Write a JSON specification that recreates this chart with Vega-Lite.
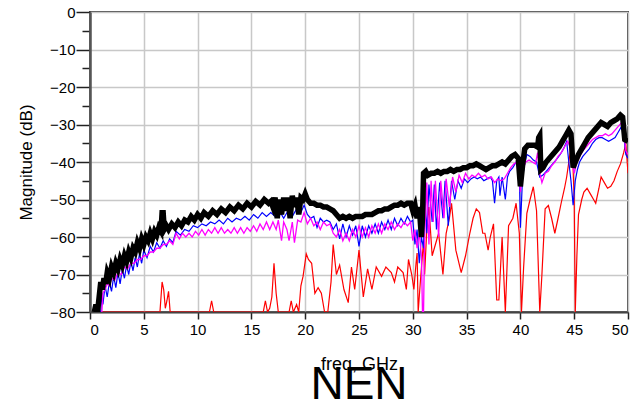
{
  "$schema": "https://vega.github.io/schema/vega-lite/v6.json",
  "width": 538,
  "height": 300,
  "autosize": {"type": "none"},
  "padding": {"left": 90, "top": 12, "right": 9, "bottom": 93},
  "background": "white",
  "config": {
    "view": {"stroke": "#444", "strokeWidth": 2},
    "font": "Liberation Sans"
  },
  "title": {"text": "NEN", "orient": "bottom", "fontSize": 46, "fontWeight": "normal", "font": "Liberation Sans", "color": "black", "offset": -10},
  "datasets": {
    "black": [
      {"f":0.4,"v":-80},{"f":0.55,"v":-78},{"f":0.7,"v":-80},{"f":0.85,"v":-76},{"f":1.0,"v":-72},{"f":1.15,"v":-74},{"f":1.3,"v":-71},{"f":1.45,"v":-72.5},{"f":1.6,"v":-69.5},{"f":1.8,"v":-71},{"f":2.0,"v":-68},{"f":2.2,"v":-69.5},{"f":2.4,"v":-67},{"f":2.6,"v":-68.5},{"f":2.8,"v":-66},{"f":3.0,"v":-67.5},{"f":3.2,"v":-65},{"f":3.4,"v":-66.5},{"f":3.6,"v":-64},{"f":3.8,"v":-65.5},{"f":4.0,"v":-63},{"f":4.2,"v":-64},{"f":4.4,"v":-61.5},{"f":4.6,"v":-63},{"f":4.8,"v":-60.5},{"f":5.0,"v":-62},{"f":5.2,"v":-60},{"f":5.4,"v":-61},{"f":5.6,"v":-59},{"f":5.8,"v":-60.5},{"f":6.0,"v":-58.5},{"f":6.2,"v":-59.5},{"f":6.4,"v":-57.5},{"f":6.6,"v":-58.5},{"f":6.7,"v":-53.5},{"f":6.8,"v":-53.5},{"f":6.9,"v":-58},{"f":7.1,"v":-57},{"f":7.3,"v":-58},{"f":7.6,"v":-56.5},{"f":7.9,"v":-57.5},{"f":8.2,"v":-56},{"f":8.5,"v":-57},{"f":8.8,"v":-55.5},{"f":9.1,"v":-56},{"f":9.4,"v":-54.5},{"f":9.7,"v":-55.5},{"f":10.0,"v":-54},{"f":10.3,"v":-55},{"f":10.6,"v":-53.5},{"f":11.0,"v":-54.5},{"f":11.4,"v":-53},{"f":11.8,"v":-54},{"f":12.2,"v":-52.5},{"f":12.6,"v":-53.5},{"f":13.0,"v":-52},{"f":13.4,"v":-53},{"f":13.8,"v":-51.5},{"f":14.2,"v":-52.5},{"f":14.6,"v":-51},{"f":15.0,"v":-52},{"f":15.4,"v":-50.5},{"f":15.8,"v":-51.5},{"f":16.2,"v":-50},{"f":16.6,"v":-51},{"f":16.8,"v":-50.5},{"f":17.0,"v":-52},{"f":17.2,"v":-49.5},{"f":17.4,"v":-55},{"f":17.6,"v":-50},{"f":17.8,"v":-54},{"f":18.0,"v":-49.5},{"f":18.2,"v":-53},{"f":18.4,"v":-49.5},{"f":18.6,"v":-55},{"f":18.8,"v":-49},{"f":19.0,"v":-52},{"f":19.2,"v":-49.5},{"f":19.4,"v":-54},{"f":19.6,"v":-49.5},{"f":19.8,"v":-50},{"f":20.0,"v":-48.5},{"f":20.2,"v":-50},{"f":20.5,"v":-51},{"f":20.8,"v":-51},{"f":21.1,"v":-51.5},{"f":21.4,"v":-51.5},{"f":21.7,"v":-52},{"f":22.0,"v":-52},{"f":22.3,"v":-52.5},{"f":22.6,"v":-53},{"f":22.9,"v":-54},{"f":23.2,"v":-55},{"f":23.5,"v":-54.5},{"f":23.8,"v":-55},{"f":24.1,"v":-54.5},{"f":24.4,"v":-55},{"f":24.7,"v":-54.5},{"f":25.0,"v":-54.5},{"f":25.3,"v":-54.5},{"f":25.6,"v":-54},{"f":25.9,"v":-54},{"f":26.2,"v":-54},{"f":26.5,"v":-53.5},{"f":26.8,"v":-53},{"f":27.1,"v":-53},{"f":27.4,"v":-52.5},{"f":27.7,"v":-52.5},{"f":28.0,"v":-52},{"f":28.3,"v":-51.5},{"f":28.6,"v":-51.5},{"f":28.9,"v":-51},{"f":29.2,"v":-51.5},{"f":29.5,"v":-51},{"f":29.8,"v":-51},{"f":30.0,"v":-53},{"f":30.2,"v":-51.5},{"f":30.4,"v":-55},{"f":30.6,"v":-52},{"f":30.8,"v":-60},{"f":30.9,"v":-55},{"f":31.0,"v":-43},{"f":31.2,"v":-42.5},{"f":31.4,"v":-43.5},{"f":31.7,"v":-43},{"f":32.0,"v":-43},{"f":32.3,"v":-42.5},{"f":32.6,"v":-43},{"f":32.9,"v":-42.5},{"f":33.2,"v":-42.5},{"f":33.5,"v":-42},{"f":33.8,"v":-42.5},{"f":34.1,"v":-42},{"f":34.4,"v":-42},{"f":34.7,"v":-41.5},{"f":35.0,"v":-41.5},{"f":35.3,"v":-41},{"f":35.6,"v":-41},{"f":35.9,"v":-40.5},{"f":36.2,"v":-41},{"f":36.5,"v":-41.5},{"f":36.8,"v":-42},{"f":37.1,"v":-41.5},{"f":37.4,"v":-41},{"f":37.7,"v":-41},{"f":38.0,"v":-40.5},{"f":38.3,"v":-40},{"f":38.6,"v":-40.5},{"f":38.9,"v":-39.5},{"f":39.2,"v":-38.5},{"f":39.5,"v":-38},{"f":39.8,"v":-39},{"f":40.0,"v":-46.5},{"f":40.2,"v":-41},{"f":40.4,"v":-36.5},{"f":40.7,"v":-35.5},{"f":41.0,"v":-35.5},{"f":41.3,"v":-35.5},{"f":41.6,"v":-36},{"f":41.7,"v":-33.5},{"f":41.8,"v":-33},{"f":41.9,"v":-42},{"f":42.1,"v":-41.5},{"f":42.4,"v":-40},{"f":42.7,"v":-39},{"f":43.0,"v":-38},{"f":43.3,"v":-37},{"f":43.6,"v":-36},{"f":43.9,"v":-34.5},{"f":44.2,"v":-33},{"f":44.5,"v":-31.5},{"f":44.7,"v":-32.5},{"f":44.9,"v":-41.5},{"f":45.1,"v":-40},{"f":45.4,"v":-38},{"f":45.7,"v":-36.5},{"f":46.0,"v":-35},{"f":46.3,"v":-33.5},{"f":46.6,"v":-32.5},{"f":46.9,"v":-31.5},{"f":47.2,"v":-30.5},{"f":47.5,"v":-29.5},{"f":47.8,"v":-30},{"f":48.1,"v":-30.5},{"f":48.4,"v":-29.5},{"f":48.7,"v":-29},{"f":49.0,"v":-28.5},{"f":49.3,"v":-27.5},{"f":49.5,"v":-28},{"f":49.7,"v":-34},{"f":50.0,"v":-34.5}
    ],
    "blue": [
      {"f":0.9,"v":-80},{"f":1.0,"v":-80},{"f":1.1,"v":-75},{"f":1.2,"v":-78},{"f":1.4,"v":-73},{"f":1.6,"v":-76},{"f":1.8,"v":-72},{"f":2.0,"v":-74.5},{"f":2.2,"v":-70.5},{"f":2.4,"v":-73.5},{"f":2.6,"v":-69.5},{"f":2.8,"v":-72.5},{"f":3.0,"v":-68.5},{"f":3.2,"v":-71},{"f":3.4,"v":-67.5},{"f":3.6,"v":-70},{"f":3.8,"v":-66.5},{"f":4.0,"v":-69},{"f":4.2,"v":-65.5},{"f":4.4,"v":-68},{"f":4.6,"v":-64.5},{"f":4.8,"v":-67},{"f":5.0,"v":-63.5},{"f":5.3,"v":-65.5},{"f":5.6,"v":-62.5},{"f":5.9,"v":-64},{"f":6.2,"v":-61.5},{"f":6.5,"v":-63},{"f":6.8,"v":-61},{"f":7.1,"v":-62.5},{"f":7.4,"v":-60.5},{"f":7.7,"v":-61.5},{"f":8.0,"v":-58.5},{"f":8.4,"v":-59.5},{"f":8.8,"v":-58},{"f":9.2,"v":-58.5},{"f":9.6,"v":-57},{"f":10.0,"v":-57.5},{"f":10.4,"v":-56.5},{"f":10.8,"v":-57},{"f":11.2,"v":-56},{"f":11.6,"v":-56.5},{"f":12.0,"v":-55.5},{"f":12.4,"v":-56.5},{"f":12.8,"v":-55},{"f":13.2,"v":-56},{"f":13.6,"v":-55},{"f":14.0,"v":-55.5},{"f":14.4,"v":-54.5},{"f":14.8,"v":-55.5},{"f":15.2,"v":-54},{"f":15.6,"v":-55},{"f":16.0,"v":-53.5},{"f":16.4,"v":-54.5},{"f":16.8,"v":-53.5},{"f":17.2,"v":-54.5},{"f":17.6,"v":-53},{"f":18.0,"v":-55},{"f":18.4,"v":-53},{"f":18.8,"v":-54.5},{"f":19.2,"v":-52.5},{"f":19.6,"v":-53.5},{"f":19.9,"v":-51.5},{"f":20.2,"v":-54},{"f":20.5,"v":-55},{"f":20.8,"v":-54.5},{"f":21.1,"v":-57.5},{"f":21.4,"v":-55},{"f":21.7,"v":-56},{"f":22.0,"v":-55.5},{"f":22.3,"v":-56},{"f":22.6,"v":-58},{"f":22.9,"v":-56.5},{"f":23.2,"v":-60.5},{"f":23.5,"v":-56.5},{"f":23.8,"v":-60},{"f":24.1,"v":-57},{"f":24.4,"v":-59.5},{"f":24.7,"v":-57},{"f":25.0,"v":-62.5},{"f":25.3,"v":-57},{"f":25.6,"v":-60},{"f":25.9,"v":-57},{"f":26.2,"v":-59},{"f":26.5,"v":-56.5},{"f":26.8,"v":-59},{"f":27.1,"v":-56},{"f":27.4,"v":-58},{"f":27.7,"v":-55.5},{"f":28.0,"v":-58},{"f":28.3,"v":-55},{"f":28.6,"v":-57},{"f":28.9,"v":-55},{"f":29.2,"v":-56.5},{"f":29.5,"v":-54.5},{"f":29.8,"v":-56},{"f":30.0,"v":-55.5},{"f":30.2,"v":-62},{"f":30.4,"v":-58},{"f":30.6,"v":-67},{"f":30.8,"v":-60},{"f":31.0,"v":-63},{"f":31.1,"v":-47},{"f":31.3,"v":-59},{"f":31.5,"v":-46},{"f":31.8,"v":-56},{"f":32.0,"v":-46},{"f":32.2,"v":-58},{"f":32.5,"v":-45.5},{"f":32.8,"v":-55},{"f":33.0,"v":-45},{"f":33.3,"v":-57},{"f":33.6,"v":-45},{"f":33.9,"v":-50},{"f":34.2,"v":-45},{"f":34.5,"v":-47},{"f":34.8,"v":-44.5},{"f":35.1,"v":-45.5},{"f":35.4,"v":-44.5},{"f":35.7,"v":-44},{"f":36.0,"v":-44.5},{"f":36.3,"v":-44},{"f":36.6,"v":-45},{"f":36.9,"v":-44.5},{"f":37.2,"v":-44},{"f":37.4,"v":-45},{"f":37.6,"v":-51},{"f":37.8,"v":-45},{"f":38.0,"v":-44},{"f":38.1,"v":-49},{"f":38.3,"v":-44},{"f":38.6,"v":-50},{"f":38.8,"v":-44},{"f":39.0,"v":-42.5},{"f":39.3,"v":-41.5},{"f":39.6,"v":-40},{"f":39.9,"v":-42},{"f":40.0,"v":-57.5},{"f":40.2,"v":-44},{"f":40.4,"v":-40.5},{"f":40.6,"v":-38},{"f":40.9,"v":-38.5},{"f":41.2,"v":-39.5},{"f":41.5,"v":-40},{"f":41.8,"v":-44},{"f":42.1,"v":-43.5},{"f":42.4,"v":-42.5},{"f":42.7,"v":-41.5},{"f":43.0,"v":-40.5},{"f":43.3,"v":-39.5},{"f":43.7,"v":-38},{"f":44.0,"v":-36.5},{"f":44.3,"v":-34.5},{"f":44.5,"v":-40},{"f":44.7,"v":-45},{"f":44.9,"v":-51.5},{"f":45.1,"v":-45},{"f":45.3,"v":-42},{"f":45.5,"v":-40},{"f":45.8,"v":-38.5},{"f":46.1,"v":-37.5},{"f":46.4,"v":-36.5},{"f":46.7,"v":-35},{"f":47.0,"v":-34},{"f":47.3,"v":-33.5},{"f":47.6,"v":-33.5},{"f":47.9,"v":-34},{"f":48.2,"v":-34.5},{"f":48.5,"v":-34},{"f":48.8,"v":-33.5},{"f":49.1,"v":-32},{"f":49.4,"v":-30.5},{"f":49.6,"v":-33},{"f":49.8,"v":-38},{"f":50.0,"v":-39}
    ],
    "magenta": [
      {"f":1.1,"v":-80},{"f":1.2,"v":-75},{"f":1.4,"v":-74},{"f":1.6,"v":-72.5},{"f":1.8,"v":-73},{"f":2.0,"v":-71},{"f":2.3,"v":-71.5},{"f":2.6,"v":-69.5},{"f":2.9,"v":-70},{"f":3.2,"v":-68},{"f":3.5,"v":-68.5},{"f":3.8,"v":-67},{"f":4.1,"v":-67},{"f":4.4,"v":-66},{"f":4.7,"v":-66},{"f":5.0,"v":-65},{"f":5.3,"v":-65},{"f":5.6,"v":-64},{"f":5.9,"v":-64},{"f":6.2,"v":-63},{"f":6.5,"v":-63},{"f":6.8,"v":-62},{"f":7.1,"v":-62},{"f":7.4,"v":-61},{"f":7.7,"v":-62},{"f":8.0,"v":-59},{"f":8.3,"v":-60.5},{"f":8.6,"v":-59},{"f":8.9,"v":-60},{"f":9.2,"v":-59},{"f":9.5,"v":-60},{"f":9.8,"v":-58.5},{"f":10.1,"v":-59.5},{"f":10.4,"v":-58},{"f":10.7,"v":-59.5},{"f":11.0,"v":-58},{"f":11.3,"v":-59},{"f":11.6,"v":-57.5},{"f":11.9,"v":-59},{"f":12.2,"v":-57.5},{"f":12.5,"v":-59},{"f":12.8,"v":-58},{"f":13.1,"v":-59},{"f":13.4,"v":-57.5},{"f":13.7,"v":-59},{"f":14.0,"v":-57.5},{"f":14.3,"v":-59},{"f":14.6,"v":-57.5},{"f":14.9,"v":-58.5},{"f":15.2,"v":-57},{"f":15.5,"v":-58.5},{"f":15.8,"v":-56.5},{"f":16.1,"v":-58},{"f":16.4,"v":-56},{"f":16.7,"v":-58},{"f":17.0,"v":-56},{"f":17.3,"v":-58},{"f":17.5,"v":-55.5},{"f":17.8,"v":-61},{"f":18.0,"v":-56},{"f":18.3,"v":-58},{"f":18.5,"v":-61},{"f":18.8,"v":-56},{"f":19.0,"v":-61.5},{"f":19.3,"v":-55.5},{"f":19.6,"v":-56},{"f":19.9,"v":-53.5},{"f":20.2,"v":-56.5},{"f":20.5,"v":-55},{"f":20.8,"v":-57},{"f":21.1,"v":-56},{"f":21.4,"v":-58},{"f":21.7,"v":-56},{"f":22.0,"v":-57},{"f":22.3,"v":-56.5},{"f":22.6,"v":-59},{"f":22.9,"v":-60},{"f":23.2,"v":-58},{"f":23.5,"v":-61},{"f":23.8,"v":-59},{"f":24.1,"v":-61},{"f":24.4,"v":-58},{"f":24.7,"v":-60},{"f":25.0,"v":-57},{"f":25.3,"v":-60},{"f":25.6,"v":-57.5},{"f":25.9,"v":-60},{"f":26.2,"v":-57},{"f":26.5,"v":-59},{"f":26.8,"v":-56.5},{"f":27.1,"v":-59},{"f":27.4,"v":-56.5},{"f":27.7,"v":-58},{"f":28.0,"v":-56},{"f":28.3,"v":-58},{"f":28.6,"v":-56.5},{"f":28.9,"v":-57.5},{"f":29.2,"v":-56},{"f":29.5,"v":-57},{"f":29.8,"v":-56},{"f":30.0,"v":-61},{"f":30.2,"v":-58},{"f":30.4,"v":-63},{"f":30.6,"v":-59},{"f":30.8,"v":-65},{"f":30.9,"v":-80},{"f":31.0,"v":-80},{"f":31.1,"v":-60},{"f":31.3,"v":-45.5},{"f":31.5,"v":-62},{"f":31.7,"v":-45},{"f":31.9,"v":-56},{"f":32.1,"v":-45},{"f":32.4,"v":-60},{"f":32.6,"v":-45},{"f":32.9,"v":-55},{"f":33.1,"v":-44.5},{"f":33.4,"v":-52},{"f":33.7,"v":-44},{"f":34.0,"v":-48},{"f":34.3,"v":-43.5},{"f":34.6,"v":-45.5},{"f":34.9,"v":-43},{"f":35.2,"v":-44.5},{"f":35.5,"v":-43.5},{"f":35.8,"v":-44},{"f":36.1,"v":-43},{"f":36.4,"v":-44},{"f":36.7,"v":-43.5},{"f":37.0,"v":-44.5},{"f":37.3,"v":-44},{"f":37.6,"v":-45.5},{"f":37.9,"v":-44.5},{"f":38.2,"v":-45},{"f":38.5,"v":-44.5},{"f":38.8,"v":-43},{"f":39.1,"v":-41.5},{"f":39.4,"v":-40.5},{"f":39.7,"v":-40},{"f":39.9,"v":-44},{"f":40.0,"v":-48},{"f":40.2,"v":-42},{"f":40.5,"v":-40},{"f":40.8,"v":-39.5},{"f":41.1,"v":-40},{"f":41.4,"v":-40.5},{"f":41.6,"v":-37.5},{"f":41.8,"v":-43},{"f":42.0,"v":-45.5},{"f":42.3,"v":-43},{"f":42.6,"v":-42.5},{"f":42.9,"v":-41},{"f":43.2,"v":-40},{"f":43.5,"v":-38.5},{"f":43.8,"v":-37.5},{"f":44.1,"v":-36},{"f":44.4,"v":-34.5},{"f":44.6,"v":-36},{"f":44.8,"v":-40},{"f":45.0,"v":-43},{"f":45.2,"v":-40.5},{"f":45.5,"v":-38.5},{"f":45.8,"v":-37},{"f":46.1,"v":-36},{"f":46.4,"v":-35},{"f":46.7,"v":-34},{"f":47.0,"v":-33.5},{"f":47.3,"v":-33},{"f":47.6,"v":-33},{"f":47.9,"v":-32.5},{"f":48.2,"v":-33},{"f":48.5,"v":-32.5},{"f":48.8,"v":-31.5},{"f":49.1,"v":-30.5},{"f":49.4,"v":-29.5},{"f":49.6,"v":-31.5},{"f":49.8,"v":-37},{"f":50.0,"v":-38}
    ],
    "red": [
      {"f":0.5,"v":-80},{"f":6.5,"v":-80},{"f":6.6,"v":-76},{"f":6.7,"v":-72},{"f":6.85,"v":-74},{"f":7.0,"v":-79},{"f":7.15,"v":-77},{"f":7.3,"v":-74.5},{"f":7.45,"v":-80},{"f":11.1,"v":-80},{"f":11.3,"v":-77},{"f":11.5,"v":-80},{"f":16.1,"v":-80},{"f":16.3,"v":-77},{"f":16.5,"v":-80},{"f":16.7,"v":-79},{"f":16.9,"v":-76},{"f":17.1,"v":-67},{"f":17.3,"v":-75},{"f":17.5,"v":-80},{"f":18.5,"v":-80},{"f":18.7,"v":-77},{"f":18.9,"v":-80},{"f":19.2,"v":-78},{"f":19.4,"v":-80},{"f":19.6,"v":-73},{"f":19.8,"v":-70.5},{"f":20.1,"v":-64.5},{"f":20.3,"v":-66},{"f":20.6,"v":-67},{"f":20.9,"v":-75},{"f":21.2,"v":-73.5},{"f":21.5,"v":-75},{"f":21.8,"v":-80},{"f":22.1,"v":-80},{"f":22.4,"v":-72},{"f":22.6,"v":-62},{"f":22.9,"v":-70},{"f":23.2,"v":-67.5},{"f":23.6,"v":-74},{"f":24.0,"v":-77.5},{"f":24.3,"v":-68},{"f":24.6,"v":-74},{"f":25.0,"v":-63.5},{"f":25.4,"v":-76},{"f":25.8,"v":-68.5},{"f":26.2,"v":-74},{"f":26.6,"v":-68},{"f":27.1,"v":-70.5},{"f":27.5,"v":-68},{"f":28.0,"v":-69.5},{"f":28.3,"v":-72},{"f":28.6,"v":-68},{"f":29.1,"v":-69.5},{"f":29.4,"v":-74},{"f":29.6,"v":-66},{"f":29.9,"v":-70},{"f":30.1,"v":-74},{"f":30.3,"v":-67},{"f":30.4,"v":-64.3},{"f":30.5,"v":-80},{"f":30.7,"v":-72},{"f":31.0,"v":-61},{"f":31.1,"v":-70},{"f":31.3,"v":-58},{"f":31.5,"v":-52},{"f":31.8,"v":-65},{"f":32.1,"v":-62},{"f":32.4,"v":-59},{"f":32.8,"v":-70},{"f":33.1,"v":-59},{"f":33.4,"v":-55},{"f":33.6,"v":-51},{"f":34.0,"v":-63.5},{"f":34.5,"v":-69.5},{"f":34.9,"v":-65},{"f":35.3,"v":-59},{"f":35.6,"v":-55},{"f":35.9,"v":-52.5},{"f":36.2,"v":-53.5},{"f":36.5,"v":-59},{"f":36.7,"v":-59},{"f":37.0,"v":-63.5},{"f":37.2,"v":-60},{"f":37.5,"v":-56.5},{"f":37.8,"v":-76.8},{"f":38.0,"v":-76.8},{"f":38.3,"v":-60},{"f":38.6,"v":-80},{"f":38.9,"v":-57},{"f":39.3,"v":-55},{"f":39.6,"v":-51},{"f":39.9,"v":-59},{"f":40.1,"v":-80},{"f":40.3,"v":-68},{"f":40.6,"v":-53.7},{"f":40.9,"v":-50},{"f":41.2,"v":-46.6},{"f":41.5,"v":-53},{"f":41.8,"v":-80},{"f":42.0,"v":-70},{"f":42.3,"v":-52.5},{"f":42.6,"v":-51.6},{"f":42.9,"v":-55},{"f":43.2,"v":-59},{"f":43.5,"v":-55},{"f":43.8,"v":-50.8},{"f":44.1,"v":-47},{"f":44.3,"v":-44},{"f":44.6,"v":-38},{"f":44.8,"v":-34},{"f":45.0,"v":-50},{"f":45.1,"v":-80},{"f":45.25,"v":-65},{"f":45.4,"v":-54},{"f":45.7,"v":-50},{"f":45.9,"v":-48},{"f":46.2,"v":-47},{"f":46.5,"v":-48.5},{"f":46.8,"v":-50},{"f":47.0,"v":-51},{"f":47.3,"v":-47},{"f":47.5,"v":-44},{"f":47.8,"v":-45.5},{"f":48.1,"v":-47},{"f":48.4,"v":-46.5},{"f":48.7,"v":-45},{"f":49.0,"v":-42.5},{"f":49.3,"v":-40.5},{"f":49.6,"v":-37.5},{"f":49.8,"v":-35},{"f":50.0,"v":-43}
    ]
  },
  "encoding": {
    "x": {
      "field": "f", "type": "quantitative",
      "scale": {"domain": [0, 50], "nice": false, "zero": false},
      "axis": {
        "values": [0, 5, 10, 15, 20, 25, 30, 35, 40, 45, 50],
        "format": "d",
        "title": "freq, GHz",
        "titleFontSize": 18, "titleFontWeight": "normal", "titleColor": "black", "titlePadding": 18,
        "labelFontSize": 15, "labelColor": "black", "labelPadding": 3,
        "tickSize": 7, "tickColor": "#222", "tickWidth": 1.5,
        "domainColor": "#444", "domainWidth": 2,
        "gridColor": "#c8c8c8", "gridWidth": 1.5
      }
    },
    "y": {
      "field": "v", "type": "quantitative",
      "scale": {"domain": [-80, 0], "nice": false, "zero": false},
      "axis": {
        "values": [0, -5, -10, -15, -20, -25, -30, -35, -40, -45, -50, -55, -60, -65, -70, -75, -80],
        "labelExpr": "datum.value % 10 === 0 ? datum.label : ''",
        "title": "Magnitude (dB)",
        "titleFontSize": 17, "titleFontWeight": "normal", "titleColor": "black", "titlePadding": 14,
        "labelFontSize": 15, "labelColor": "black", "labelPadding": 1,
        "tickSize": {"condition": {"test": "datum.value % 10 === 0", "value": 14}, "value": 8},
        "tickColor": "#222", "tickWidth": 1.5,
        "domainColor": "#555", "domainWidth": 2.5,
        "gridColor": "#c8c8c8", "gridWidth": 1.5,
        "gridOpacity": {"condition": {"test": "datum.value % 10 === 0", "value": 1}, "value": 0}
      }
    }
  },
  "layer": [
    {"data": {"name": "red"}, "mark": {"type": "line", "color": "#ff0000", "strokeWidth": 1.2, "clip": true}},
    {"data": {"name": "blue"}, "mark": {"type": "line", "color": "#0000ff", "strokeWidth": 1.2, "clip": true}},
    {"data": {"name": "magenta"}, "mark": {"type": "line", "color": "#ff00ff", "strokeWidth": 1.3, "clip": true}},
    {"data": {"name": "black"}, "mark": {"type": "line", "color": "#000000", "strokeWidth": 5.5, "clip": true}}
  ]
}
